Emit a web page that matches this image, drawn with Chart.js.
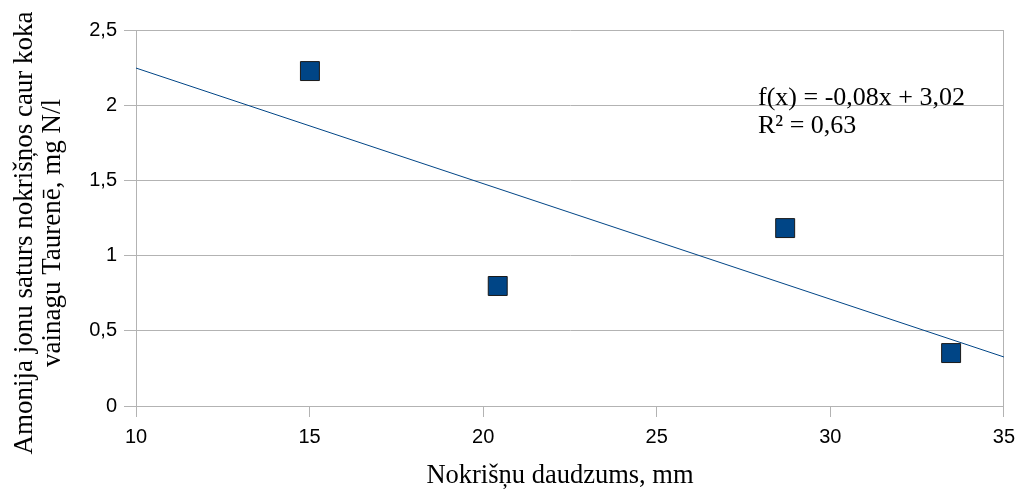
<!DOCTYPE html>
<html><head><meta charset="utf-8">
<script src="https://cdn.jsdelivr.net/npm/chart.js@4"></script>
<style>html,body{margin:0;padding:0;background:#fff}canvas{display:block}</style>
</head><body>
<canvas id="c" width="1023" height="489"></canvas>
<script>
const xValues = [15.01, 20.42, 28.70, 33.48];
const yValues = [2.227, 0.798, 1.183, 0.352];
const trendX = [10, 35];
const trendY = [2.247, 0.326];
const xTicks = [10, 15, 20, 25, 30, 35];
const yTicks = [0, 0.5, 1, 1.5, 2, 2.5];
const xTitle = 'Nokrišņu daudzums, mm';
const yTitle = ['Amonija jonu saturs nokrišņos caur koka', 'vainagu Taurenē, mg N/l'];
const eqLines = ['f(x) = -0,08x + 3,02', 'R² = 0,63'];

const SERIF = '"Liberation Serif", "Times New Roman", serif';
const SANS = '"Liberation Sans", Arial, sans-serif';
const GRID = '#b3b3b3';
const fmt = v => String(v).replace('.', ',');

const annot = {
  id: 'annot',
  afterDraw(chart) {
    const ctx = chart.ctx;
    ctx.save();
    ctx.fillStyle = '#000';
    ctx.textBaseline = 'alphabetic';
    ctx.textAlign = 'left';
    ctx.font = '26px ' + SERIF;
    ctx.fillText(eqLines[0], 758, 105);
    ctx.fillText(eqLines[1], 758, 133);
    ctx.textAlign = 'center';
    ctx.font = '26.5px ' + SERIF;
    ctx.fillText(xTitle, 560, 483);
    ctx.font = '27px ' + SERIF;
    ctx.translate(0, 233);
    ctx.rotate(-Math.PI / 2);
    ctx.fillText(yTitle[0], 0, 32);
    ctx.fillText(yTitle[1], 0, 60);
    ctx.restore();
  }
};

new Chart(document.getElementById('c'), {
  type: 'scatter',
  data: {
    datasets: [
      {
        label: 'Trend',
        data: trendX.map((x, i) => ({x: x, y: trendY[i]})),
        showLine: true,
        borderColor: '#004586',
        borderWidth: 1,
        pointRadius: 0,
        pointHoverRadius: 0,
        fill: false
      },
      {
        label: 'Data',
        data: xValues.map((x, i) => ({x: x, y: yValues[i]})),
        pointStyle: 'rect',
        pointRadius: 13.4,
        pointHoverRadius: 13.4,
        backgroundColor: '#004586',
        borderColor: '#1a1a1a',
        borderWidth: 1
      }
    ]
  },
  options: {
    responsive: false,
    animation: false,
    layout: {padding: {top: 30, right: 14, left: 0, bottom: 0}},
    plugins: {legend: {display: false}, tooltip: {enabled: false}},
    scales: {
      x: {
        type: 'linear', position: 'bottom', min: 10, max: 35,
        afterBuildTicks: s => { s.ticks = xTicks.map(v => ({value: v})); },
        afterFit: s => { s.height = 83; },
        grid: {
          color: c => (c.tick && (c.tick.value === 10 || c.tick.value === 35)) ? GRID : 'rgba(0,0,0,0)',
          tickColor: GRID, lineWidth: 1, tickLength: 11
        },
        border: {color: GRID},
        ticks: {color: '#000', font: {family: SANS, size: 20}, padding: 8, callback: fmt, maxRotation: 0}
      },
      y: {
        type: 'linear', min: 0, max: 2.5,
        afterBuildTicks: s => { s.ticks = yTicks.map(v => ({value: v})); },
        afterFit: s => { s.width = 136; },
        grid: {color: GRID, lineWidth: 1, tickLength: 12},
        border: {color: GRID},
        ticks: {color: '#000', font: {family: SANS, size: 20}, padding: 7, callback: fmt}
      }
    }
  },
  plugins: [annot]
});
</script>
</body></html>
